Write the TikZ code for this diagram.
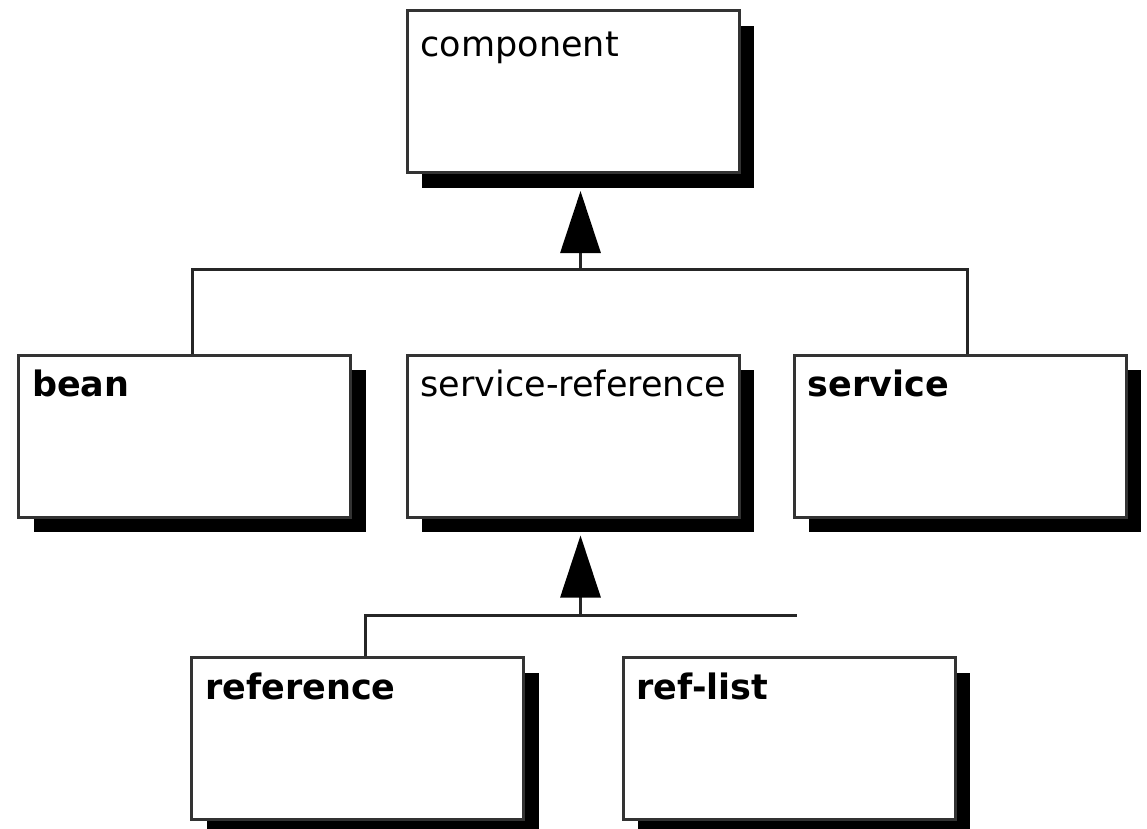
\documentclass[tikz,border=0pt]{standalone}
\usepackage{fontspec}
\setmainfont{DejaVu Sans}
\usetikzlibrary{arrows.meta,shadows}
\begin{document}
\begin{tikzpicture}[x=1pt,y=-1pt,
  classbox/.style={draw=black!80, line width=3pt, fill=white,
    minimum width=332pt, minimum height=162pt, inner sep=0pt,
    general shadow={fill=black, shadow xshift=15pt, shadow yshift=-15pt}},
  lbl/.style={anchor=base west, inner sep=0pt, font=\fontsize{35}{42}\selectfont},
  blbl/.style={lbl, font=\fontsize{35}{42}\selectfont\bfseries},
  conn/.style={draw=black!85, line width=3pt},
  gen/.style={conn, -{Triangle[width=40pt,length=62pt,black]}}]
\useasboundingbox (0,0) rectangle (1147,828);
\clip (0,0) rectangle (1147,828);

% class boxes
\node[classbox] (comp)    at (573,91.5) {};
\node[classbox] (bean)    at (184.5,436) {};
\node[classbox] (sref)    at (573,436) {};
\node[classbox] (serv)    at (960,436) {};
\node[classbox] (ref)     at (357.5,738.5) {};
\node[classbox] (reflist) at (789,738.5) {};

% class names
\node[lbl]  (comp-t)    at ([shift={(15,47)}]comp.north west)    {component};
\node[blbl] (bean-t)    at ([shift={(15,43)}]bean.north west)    {bean};
\node[lbl]  (sref-t)    at ([shift={(15,43)}]sref.north west)    {service-reference};
\node[blbl] (serv-t)    at ([shift={(15,43)}]serv.north west)    {service};
\node[blbl] (ref-t)     at ([shift={(15,43)}]ref.north west)     {reference};
\node[blbl] (reflist-t) at ([shift={(15,43)}]reflist.north west) {ref-list};

% attachment points (centre of box plus shadow)
\coordinate (comp-b) at ([shift={(7.5,17)}]comp.south);
\coordinate (sref-b) at ([shift={(7.5,17)}]sref.south);
\coordinate (bean-n) at ([xshift=7.5pt]bean.north);
\coordinate (serv-n) at ([xshift=7.5pt]serv.north);
\coordinate (ref-n)  at ([xshift=7.5pt]ref.north);
\coordinate (rl-n)   at ([xshift=7.5pt]reflist.north);
\coordinate (j1) at (comp-b |- 0,269);
\coordinate (j2) at (sref-b |- 0,615);

% generalisation: component
\draw[conn] (bean-n) |- (j1) -| (serv-n);
\draw[gen] (j1) -- (comp-b);

% generalisation: service-reference
\draw[conn] (ref-n) |- (j2) -- (j2 -| rl-n);
\draw[gen] (j2) -- (sref-b);
\end{tikzpicture}
\end{document}
